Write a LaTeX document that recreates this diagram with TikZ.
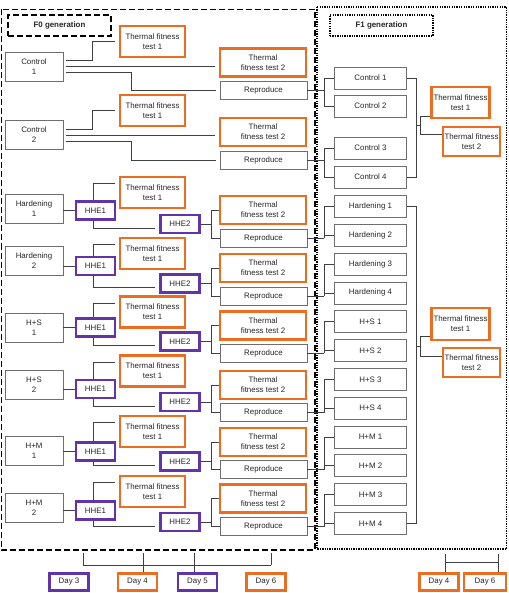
\documentclass[tikz,border=0pt]{standalone}
\usepackage{fontspec}
\setmainfont{Liberation Sans}
\usetikzlibrary{calc}
\definecolor{tforange}{RGB}{236,108,34}
\definecolor{hhepurple}{RGB}{98,52,172}
\definecolor{boxgrey}{RGB}{110,110,110}
\tikzset{
  base/.style={inner sep=0pt, align=center, text=black!85, font=\fontsize{7.9}{10}\selectfont},
  plain/.style={base, draw=boxgrey, line width=0.7pt},
  tf/.style={base, draw=tforange, line width=2.2pt},
  hhe/.style={base, draw=hhepurple, line width=2.3pt, minimum width=39pt, minimum height=18pt},
  dayo/.style={tf, line width=2.6pt, minimum width=39pt, minimum height=17pt},
  dayp/.style={hhe, line width=2.6pt, minimum height=17pt},
  link/.style={draw=black!75, line width=0.8pt},
  shortlink/.style={link, shorten >=4pt},
  genframe/.style={line width=1.7pt, dash pattern=on 6pt off 3pt},
  genframedot/.style={line width=1.4pt, dash pattern=on 1.3pt off 1.1pt},
}
\begin{document}
\begin{tikzpicture}[x=1pt, y=-1pt]
\useasboundingbox (0,0) rectangle (508,593);
% generation frames
\draw[genframe] (1.5,9.5) rectangle (315,550);
\draw[genframedot] (317,7) rectangle (506.5,549);
\node[base, genframe, draw, minimum width=103pt, minimum height=21pt, font=\fontsize{7.9}{10}\selectfont\bfseries] (f0lab) at (59.5,25.5) {F0 generation};
\node[base, genframedot, draw, minimum width=103pt, minimum height=21pt, font=\fontsize{7.9}{10}\selectfont\bfseries] (f1lab) at (381.5,25.5) {F1 generation};
% F0 rows
\foreach \n/\lab/\k/\gy/\ay/\by/\ry in {1/Control/1/66.5/41.5/62.5/90.5, 2/Control/2/135/110.5/132/160,
  3/Hardening/1/208.5/192.5/210/238, 4/Hardening/2/261/253.5/268/296,
  5/H+S/1/328/312/325.5/353, 6/H+S/2/385/371/385/412.5,
  7/H+M/1/451/431.5/442/469.5, 8/H+M/2/508/491.5/498.5/526.5}
{
  \node[plain, minimum width=58pt, minimum height=29pt] (g\n) at (34,\gy) {\lab\\\k};
  \node[tf, minimum width=65pt, minimum height=31pt] (ta\n) at (152.5,\ay) {Thermal fitness\\test 1};
  \node[tf, minimum width=86pt, minimum height=28pt] (tb\n) at (263,\by) {Thermal\\fitness test 2};
  \node[plain, minimum width=87pt, minimum height=18pt] (rp\n) at (263.5,\ry) {Reproduce};
}
\foreach \n/\hy/\iy in {3/210.5/224, 4/266/283.5, 5/327.5/341.5, 6/389/402, 7/451.5/461.5, 8/510.5/522}
{
  \node[hhe] (ha\n) at (95.5,\hy) {HHE1};
  \node[hhe] (hb\n) at (180,\iy) {HHE2};
}
% F0 connectors
\foreach \n in {1,2}
{
  \draw[shortlink] ([xshift=3pt,yshift=6pt]g\n.east) -- ++(26,0) |- (ta\n.west);
  \draw[shortlink] ([xshift=3pt]g\n.east) -- (g\n.east -| tb\n.west);
  \draw[shortlink] ([xshift=3pt,yshift=-6pt]g\n.east) -- ++(65,0) |- (rp\n.west);
}
\foreach \n in {3,...,8}
{
  \draw[link] (g\n.east |- ha\n.west) -- (ha\n.west);
  \draw[shortlink] ([xshift=-2.5pt]ha\n.north) |- ([yshift=9pt]ta\n.west);
  \draw[shortlink] ([xshift=-2.5pt]ha\n.south) |- ([yshift=-4pt]hb\n.west);
  \draw[link] (hb\n.east) -- ([xshift=-8pt]tb\n.west |- hb\n.east);
  \draw[link] (tb\n.west) -- ++(-8,0) |- (rp\n.west);
}
% F1 column
\foreach \k/\y in {1/78, 2/106, 3/148, 4/177}
  \node[plain, minimum width=72pt, minimum height=22pt] (f\k) at (370.5,\y) {Control \k};
\foreach \lab [count=\i from 5] in {Hardening 1, Hardening 2, Hardening 3, Hardening 4,
  H+S 1, H+S 2, H+S 3, H+S 4, H+M 1, H+M 2, H+M 3, H+M 4}
  \node[plain, minimum width=72pt, minimum height=22pt] (f\i) at (370.5,{206.5+28.8*(\i-5)}) {\lab};
% reproduce to F1
\foreach \n in {1,...,8}
{
  \pgfmathtruncatemacro{\a}{2*\n-1}
  \pgfmathtruncatemacro{\b}{2*\n}
  \draw[link] (f\a.west) -- ++(-10,0) |- (f\b.west);
  \draw[link] (rp\n.east) -- ([xshift=-10pt]f\a.west |- rp\n.east);
  \draw[link] ([xshift=-10pt]f\b.west) -- ([xshift=-10pt]f\a.west |- rp\n.east);
}
% F1 thermal fitness tests
\node[tf, minimum width=58pt, minimum height=31pt] (fta) at (460.5,102.5) {Thermal fitness\\test 1};
\node[tf, minimum width=57pt, minimum height=29pt] (ftb) at (471.5,141.5) {Thermal fitness\\test 2};
\node[tf, minimum width=58pt, minimum height=32pt] (ftc) at (460.5,324) {Thermal fitness\\test 1};
\node[tf, minimum width=57pt, minimum height=29pt] (ftd) at (471.5,362.5) {Thermal fitness\\test 2};
\coordinate (ua) at ([yshift=3pt]fta.south west);
\coordinate (la) at ([yshift=-9pt]ftb.north west);
\coordinate (uc) at ([yshift=5pt]ftc.south west);
\coordinate (lc) at ([yshift=-9pt]ftd.north west);
\coordinate (ja) at ($(ua)!0.5!(la)$);
\coordinate (jc) at ($(uc)!0.5!(lc)$);
\draw[link] (f1.east) -- ++(10,0) coordinate (ra) |- (f4.east);
\draw[link] (ra |- ja) -- ++(4,0) coordinate (sa);
\draw[link] (sa) |- (ua);
\draw[link] (sa) |- (la);
\draw[link] (f5.east) -- ++(10,0) coordinate (rb) |- (f16.east);
\draw[link] (rb |- jc) -- ++(4,0) coordinate (sb);
\draw[link] (sb) |- (uc);
\draw[link] (sb) |- (lc);
% days
\node[dayp] (d3) at (69,582) {Day 3};
\node[dayo] (d4) at (137.5,582) {Day 4};
\node[dayp] (d5) at (197.5,582) {Day 5};
\node[dayo] (d6) at (266,582) {Day 6};
\node[dayo] (e4) at (439,582) {Day 4};
\node[dayo, minimum width=42pt] (e6) at (485,582) {Day 6};
\draw[link, line width=1pt] ([xshift=14pt,yshift=7pt]d3.north) coordinate (a3) -- ([xshift=5pt,yshift=7pt]d6.north) coordinate (a6);
\draw[link] (a3) -- ++(0,-12);
\draw[link] (a6) -- ++(0,-12);
\draw[link] ([xshift=5.5pt]d4.north) -- ++(0,-19);
\draw[link] ([xshift=-3.5pt]d5.north) -- ++(0,-19);
\draw[link, line width=1pt] ([xshift=6pt,yshift=10pt]e4.north) -- ([xshift=13pt,yshift=10pt]e6.north);
\draw[link] ([xshift=6pt]e4.north) -- ++(0,-18);
\draw[link] ([xshift=13pt]e6.north) -- ++(0,-18);
\end{tikzpicture}
\end{document}
